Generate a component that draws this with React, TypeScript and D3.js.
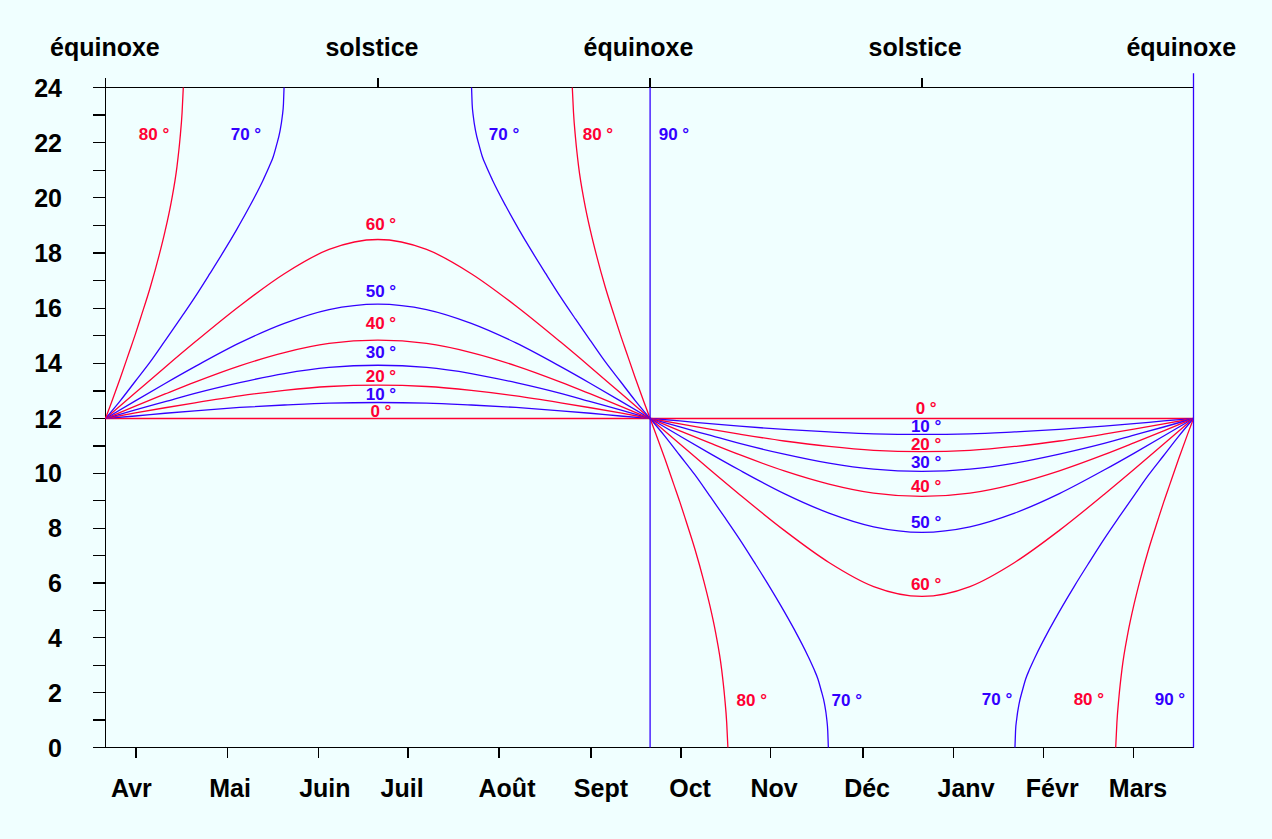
import React from 'react';
import * as d3 from 'd3';

// ---------- data ----------
const hourTicks = [0, 1, 2, 3, 4, 5, 6, 7, 8, 9, 10, 11, 12, 13, 14, 15, 16, 17, 18, 19, 20, 21, 22, 23, 24];
const hourLabels = [0, 2, 4, 6, 8, 10, 12, 14, 16, 18, 20, 22, 24];

// days counted from the spring equinox (21 March)
const seasonTickDays = [0, 91.4, 182.7, 273.9, 365];
const seasonLabels = ['équinoxe', 'solstice', 'équinoxe', 'solstice', 'équinoxe'];
const seasonLabelDays = [-0.2, 89.4, 178.8, 271.6, 360.9];

const monthTickDays = [10.2, 40.8, 71.5, 101.5, 132, 162.9, 193.1, 223.2, 254.1, 284.6, 314.8, 345.0];
const monthLabels = ['Avr', 'Mai', 'Juin', 'Juil', 'Août', 'Sept', 'Oct', 'Nov', 'Déc', 'Janv', 'Févr', 'Mars'];
const monthLabelDays = [8.7, 41.8, 73.6, 99.5, 134.7, 166.2, 196.1, 224.3, 255.5, 288.7, 317.6, 346.4];

// day length (hours) per latitude
const summerDays = [0, 10, 20, 30, 45, 60, 75, 91.4, 107.7, 122.7, 137.7, 152.7, 162.7, 172.7, 182.7];
const winterDays = [182.7, 192.7, 202.7, 212.7, 227.7, 242.7, 257.7, 273.9, 290, 305, 320, 335, 345, 355, 365];

const lat0 = [[0, 12], [182.7, 12], [365, 12]];

const summer10 = [12, 12.09, 12.19, 12.28, 12.4, 12.49, 12.56, 12.58, 12.56, 12.49, 12.4, 12.28, 12.19, 12.09, 12];
const summer20 = [12, 12.2, 12.39, 12.57, 12.82, 13.02, 13.16, 13.21, 13.16, 13.02, 12.82, 12.57, 12.39, 12.2, 12];
const summer30 = [12, 12.31, 12.61, 12.91, 13.3, 13.63, 13.85, 13.93, 13.85, 13.63, 13.3, 12.91, 12.61, 12.31, 12];
const summer40 = [12, 12.45, 12.89, 13.32, 13.91, 14.39, 14.72, 14.84, 14.72, 14.39, 13.91, 13.32, 12.89, 12.45, 12];
const summer50 = [12, 12.64, 13.27, 13.88, 14.74, 15.45, 15.95, 16.15, 15.95, 15.45, 14.74, 13.88, 13.27, 12.64, 12];
const summer60 = [12, 12.93, 13.86, 14.77, 16.08, 17.25, 18.13, 18.49, 18.13, 17.25, 16.08, 14.77, 13.86, 12.93, 12];

const winter10 = [12, 11.91, 11.81, 11.72, 11.6, 11.51, 11.44, 11.42, 11.44, 11.51, 11.6, 11.72, 11.81, 11.91, 12];
const winter20 = [12, 11.8, 11.61, 11.43, 11.18, 10.98, 10.84, 10.79, 10.84, 10.98, 11.18, 11.43, 11.61, 11.8, 12];
const winter30 = [12, 11.69, 11.39, 11.09, 10.7, 10.37, 10.15, 10.07, 10.15, 10.37, 10.7, 11.09, 11.39, 11.69, 12];
const winter40 = [12, 11.55, 11.11, 10.68, 10.09, 9.61, 9.28, 9.16, 9.28, 9.61, 10.09, 10.68, 11.11, 11.55, 12];
const winter50 = [12, 11.36, 10.73, 10.12, 9.26, 8.55, 8.05, 7.85, 8.05, 8.55, 9.26, 10.12, 10.73, 11.36, 12];
const winter60 = [12, 11.07, 10.14, 9.23, 7.92, 6.75, 5.87, 5.51, 5.87, 6.75, 7.92, 9.23, 10.14, 11.07, 12];

const lat70SummerRise = [[0, 12], [5, 12.65], [10, 13.35], [15, 14.05], [20, 14.82], [25, 15.6], [30, 16.4], [35, 17.25], [40, 18.12], [44, 18.85], [48.5, 19.72], [52.9, 20.65], [55, 21.15], [56.3, 21.5], [57.4, 21.92], [58.5, 22.4], [59.3, 22.95], [59.7, 23.4], [59.9, 24]];
const lat70SummerFall = [[122.8, 24], [123, 23.4], [123.4, 22.95], [124.2, 22.4], [125.3, 21.92], [126.4, 21.5], [127.7, 21.15], [129.8, 20.65], [134.2, 19.72], [138.7, 18.85], [142.7, 18.12], [147.7, 17.25], [152.7, 16.4], [157.7, 15.6], [162.7, 14.82], [167.7, 14.05], [172.7, 13.35], [177.7, 12.65], [182.7, 12]];
const lat80SummerRise = [[0, 12], [2, 12.58], [5, 13.48], [8, 14.42], [10, 15.05], [12, 15.72], [15, 16.75], [18, 17.92], [20, 18.8], [22, 19.82], [24, 21.15], [25, 22.15], [25.7, 23.1], [26.1, 24]];
const lat80SummerFall = [[156.6, 24], [157, 23.1], [157.7, 22.15], [158.7, 21.15], [160.7, 19.82], [162.7, 18.8], [164.7, 17.92], [167.7, 16.75], [170.7, 15.72], [172.7, 15.05], [174.7, 14.42], [177.7, 13.48], [180.7, 12.58], [182.7, 12]];

const lat70WinterFall = [[182.7, 12], [187.7, 11.35], [192.7, 10.65], [197.7, 9.95], [202.7, 9.18], [207.7, 8.4], [212.7, 7.6], [217.7, 6.75], [222.7, 5.88], [226.7, 5.15], [231.2, 4.28], [235.6, 3.35], [237.7, 2.85], [239, 2.5], [240.1, 2.08], [241.2, 1.6], [241.95, 1.05], [242.3, 0.6], [242.5, 0]];
const lat70WinterRise = [[305.1, 0], [305.3, 0.6], [305.7, 1.05], [306.5, 1.6], [307.6, 2.08], [308.7, 2.5], [310, 2.85], [312.1, 3.35], [316.5, 4.28], [321, 5.15], [325, 5.88], [330, 6.75], [335, 7.6], [340, 8.4], [345, 9.18], [350, 9.95], [355, 10.65], [360, 11.35], [365, 12]];
const lat80WinterFall = [[182.7, 12], [184.7, 11.42], [187.7, 10.52], [190.7, 9.58], [192.7, 8.95], [194.7, 8.28], [197.7, 7.25], [200.7, 6.08], [202.7, 5.2], [204.7, 4.18], [206.7, 2.85], [207.7, 1.85], [208.4, 0.9], [208.8, 0]];
const lat80WinterRise = [[338.9, 0], [339.3, 0.9], [340, 1.85], [341, 2.85], [343, 4.18], [345, 5.2], [347, 6.08], [350, 7.25], [353, 8.28], [355, 8.95], [357, 9.58], [360, 10.52], [363, 11.42], [365, 12]];

const lat90Autumn = [[182.7, 24], [182.7, 0]];
const lat90Spring = [[365, 24.52], [365, 0]];

// latitude labels
const labelLats = [80, 70, 60, 50, 40, 30, 20, 10, 0, 70, 80, 90, 0, 10, 20, 30, 40, 50, 60, 80, 70, 70, 80, 90];
const labelDays = [16.3, 47.1, 92.4, 92.4, 92.4, 92.4, 92.4, 92.4, 92.4, 133.7, 165.2, 190.7, 275.3, 275.3, 275.3, 275.3, 275.3, 275.3, 275.3, 216.8, 248.7, 299.1, 329.9, 357.1];
const labelHours = [22.08, 22.08, 18.83, 16.41, 15.23, 14.19, 13.34, 12.67, 12.04, 22.08, 22.08, 22.08, 12.18, 11.5, 10.85, 10.18, 9.33, 8.01, 5.74, 1.53, 1.53, 1.55, 1.55, 1.55];

// ---------- drawing ----------
const RED = '#ff0033';
const BLUE = '#3300ff';
const BG = '#f0ffff';
const FONT = '"Liberation Sans", Arial, sans-serif';

const colorOf = (lat: number) => ((lat / 10) % 2 === 0 ? RED : BLUE);

export default function App() {
  const W = 1272;
  const H = 839;
  const x = d3.scaleLinear().domain([0, 365]).range([105.5, 1193.5]);
  const y = d3.scaleLinear().domain([0, 12, 24]).range([747.5, 418.5, 87.5]);
  const line = d3
    .line<number[]>()
    .x((d) => x(d[0]))
    .y((d) => y(d[1]))
    .curve(d3.curveMonotoneX);
  const straight = d3
    .line<number[]>()
    .x((d) => x(d[0]))
    .y((d) => y(d[1]));

  const zipS = (v: number[]) => d3.zip(summerDays, v) as number[][];
  const zipW = (v: number[]) => d3.zip(winterDays, v) as number[][];

  const curves: { pts: number[][]; lat: number }[] = [
    { pts: lat0, lat: 0 },
    { pts: zipS(summer10), lat: 10 },
    { pts: zipS(summer20), lat: 20 },
    { pts: zipS(summer30), lat: 30 },
    { pts: zipS(summer40), lat: 40 },
    { pts: zipS(summer50), lat: 50 },
    { pts: zipS(summer60), lat: 60 },
    { pts: zipW(winter10), lat: 10 },
    { pts: zipW(winter20), lat: 20 },
    { pts: zipW(winter30), lat: 30 },
    { pts: zipW(winter40), lat: 40 },
    { pts: zipW(winter50), lat: 50 },
    { pts: zipW(winter60), lat: 60 },
    { pts: lat70SummerRise, lat: 70 },
    { pts: lat70SummerFall, lat: 70 },
    { pts: lat80SummerRise, lat: 80 },
    { pts: lat80SummerFall, lat: 80 },
    { pts: lat70WinterFall, lat: 70 },
    { pts: lat70WinterRise, lat: 70 },
    { pts: lat80WinterFall, lat: 80 },
    { pts: lat80WinterRise, lat: 80 },
  ];

  const x0 = x(0);
  const xEnd = x(365);
  const tickLen = 12.5;

  return (
    <svg
      width={W}
      height={H}
      viewBox={`0 0 ${W} ${H}`}
      style={{ position: 'absolute', left: 0, top: 0, display: 'block' }}
    >
      <rect x={0} y={0} width={W} height={H} fill={BG} />

      {/* axes */}
      <g stroke="#000" strokeWidth={1.2} shapeRendering="crispEdges">
        <line x1={x0} x2={x0} y1={y(24) - 9.5} y2={y(0)} />
        <line x1={x0 - tickLen} x2={xEnd} y1={y(24)} y2={y(24)} />
        <line x1={x0 - tickLen} x2={xEnd} y1={y(0)} y2={y(0)} />
        {hourTicks.map((h) => (
          <line key={'h' + h} x1={x0 - tickLen} x2={x0} y1={y(h)} y2={y(h)} />
        ))}
        {seasonTickDays.map((d, i) => (
          <line key={'s' + i} x1={x(d)} x2={x(d)} y1={y(24) - 9.5} y2={y(24)} />
        ))}
        {monthTickDays.map((d, i) => (
          <line key={'m' + i} x1={x(d)} x2={x(d)} y1={y(0)} y2={y(0) + 10.5} />
        ))}
      </g>

      {/* y labels */}
      <g fontFamily={FONT} fontWeight="bold" fontSize={25} fill="#000" textAnchor="end">
        {hourLabels.map((h) => (
          <text key={'yl' + h} x={62} y={y(h) + 9}>
            {h}
          </text>
        ))}
      </g>

      {/* season labels */}
      <g fontFamily={FONT} fontWeight="bold" fontSize={25} fill="#000" textAnchor="middle">
        {seasonLabels.map((s, i) => (
          <text key={'sl' + i} x={x(seasonLabelDays[i])} y={56}>
            {s}
          </text>
        ))}
      </g>

      {/* month labels */}
      <g fontFamily={FONT} fontWeight="bold" fontSize={25} fill="#000" textAnchor="middle">
        {monthLabels.map((m, i) => (
          <text key={'ml' + i} x={x(monthLabelDays[i])} y={797}>
            {m}
          </text>
        ))}
      </g>

      {/* curves */}
      <g fill="none" strokeWidth={1.3}>
        {curves.map((c, i) => (
          <path key={'c' + i} d={line(c.pts) || ''} stroke={colorOf(c.lat)} />
        ))}
        <path d={straight(lat90Autumn) || ''} stroke={BLUE} />
        <path d={straight(lat90Spring) || ''} stroke={BLUE} />
      </g>

      {/* latitude labels */}
      <g fontFamily={FONT} fontWeight="bold" fontSize={17} textAnchor="middle">
        {labelLats.map((lat, i) => (
          <text key={'ll' + i} x={x(labelDays[i])} y={y(labelHours[i])} fill={colorOf(lat)}>
            {`${lat} °`}
          </text>
        ))}
      </g>
    </svg>
  );
}
